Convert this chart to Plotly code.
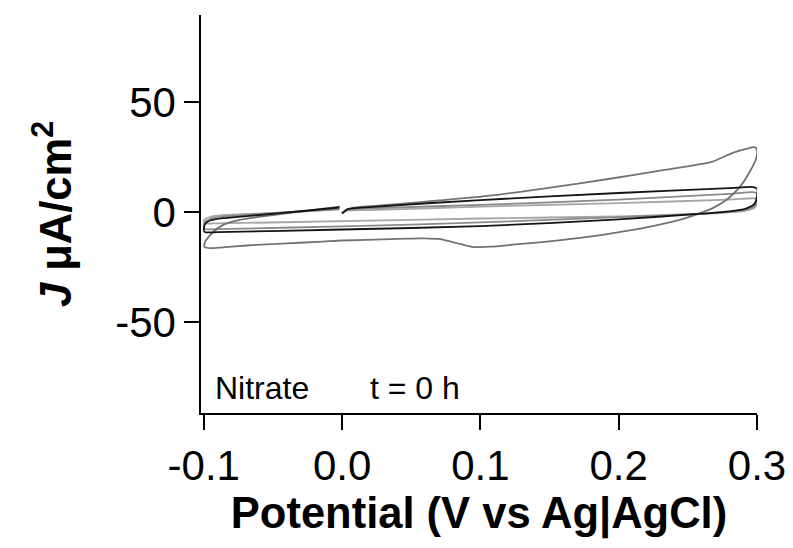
import plotly.graph_objects as go

# Cyclic voltammograms in nitrate electrolyte at t = 0 h.
# Each cycle starts at 0.0 V, sweeps to +0.3 V, back to -0.1 V and returns to 0.0 V.

cycle1_potential = [0.0, 0.003, 0.01, 0.035, 0.07, 0.107, 0.148, 0.196, 0.232, 0.256, 0.268, 0.282,
                    0.292, 0.2986, 0.3, 0.2995, 0.295, 0.287, 0.278, 0.268, 0.256, 0.244, 0.22, 0.196,
                    0.172, 0.148, 0.125, 0.107, 0.095, 0.083, 0.071, 0.059, 0.047, 0.035, 0.0, -0.014,
                    -0.04, -0.062, -0.08, -0.095, -0.0995, -0.099, -0.096, -0.093, -0.086, -0.074,
                    -0.05, -0.025, -0.0015]
cycle1_current = [-0.6, 1.0, 2.0, 3.3, 5.2, 7.4, 10.8, 15.3, 19.0, 21.4, 22.9, 26.7,
                  28.6, 29.4, 28.0, 24.5, 18.5, 10.9, 5.5, 1.7, -1.2, -3.6, -7.0, -9.6,
                  -11.8, -13.5, -14.8, -15.8, -16.0, -14.2, -12.4, -12.0, -12.1, -12.4, -13.0, -13.5,
                  -14.3, -15.0, -15.8, -16.5, -15.8, -13.5, -11.0, -9.0, -5.9, -3.6,
                  -1.4, 0.6, 2.4]

cycle2_potential = [0.0, 0.004, 0.02, 0.1, 0.2, 0.28, 0.297, 0.3, 0.3, 0.298, 0.292, 0.28, 0.26,
                    0.2, 0.1, 0.0, -0.09, -0.099, -0.1, -0.099, -0.095, -0.085, -0.06, -0.03, -0.002]
cycle2_current = [-0.8, 1.2, 2.2, 5.4, 8.6, 10.8, 11.3, 10.6, 7.0, 3.5, 1.5, 0.2, -0.8,
                  -3.4, -6.5, -8.0, -9.2, -9.2, -8.0, -5.5, -3.8, -2.8, -1.4, 0.3, 2.0]

cycle3_potential = [0.0, 0.004, 0.02, 0.1, 0.2, 0.28, 0.297, 0.3, 0.3, 0.298, 0.29, 0.27,
                    0.2, 0.1, 0.0, -0.09, -0.099, -0.1, -0.099, -0.095, -0.08, -0.05, -0.002]
cycle3_current = [-0.6, 1.0, 1.6, 3.2, 5.6, 8.2, 9.0, 8.4, 5.5, 2.5, 0.8, -0.4,
                  -2.4, -4.8, -6.6, -7.8, -7.8, -6.5, -4.5, -3.0, -1.8, -0.6, 1.4]

cycle4_potential = [0.0, 0.004, 0.02, 0.1, 0.2, 0.28, 0.297, 0.3, 0.3, 0.298, 0.29, 0.27,
                    0.2, 0.1, 0.0, -0.09, -0.099, -0.1, -0.099, -0.095, -0.08, -0.05, -0.002]
cycle4_current = [-0.4, 0.6, 0.8, 2.4, 4.0, 5.6, 6.2, 5.8, 4.0, 1.8, 0.4, -0.6,
                  -2.0, -3.0, -4.2, -5.2, -5.2, -4.4, -3.2, -2.2, -1.3, -0.5, 1.0]

x_tick_values = [-0.1, 0.0, 0.1, 0.2, 0.3]
x_tick_labels = ["-0.1", "0.0", "0.1", "0.2", "0.3"]
y_tick_values = [-50, 0, 50]
y_tick_labels = ["-50", "0", "50"]

cycles = [
    (cycle4_potential, cycle4_current, "#a6a6a6"),
    (cycle3_potential, cycle3_current, "#8a8a8a"),
    (cycle1_potential, cycle1_current, "#737373"),
    (cycle2_potential, cycle2_current, "#141414"),
]

FONT = "Arial, Liberation Sans, sans-serif"

fig = go.Figure()
for potential, current, color in cycles:
    fig.add_trace(go.Scatter(
        x=potential, y=current, mode="lines",
        line=dict(color=color, width=1.8, shape="spline", smoothing=0.6),
        showlegend=False, hoverinfo="skip",
    ))

fig.update_layout(
    width=793, height=548,
    margin=dict(l=201, r=35.5, t=15, b=135, autoexpand=False),
    paper_bgcolor="white", plot_bgcolor="white",
    font=dict(family=FONT, color="black"),
    xaxis=dict(
        range=[-0.102, 0.3],
        automargin=False,
        tickvals=x_tick_values, ticktext=x_tick_labels,
        ticks="outside", ticklen=15, tickwidth=1.5, tickcolor="black",
        showline=True, linecolor="black", linewidth=2,
        showgrid=False, zeroline=False,
        tickfont=dict(size=42, family=FONT),
        title=dict(text="<b>Potential (V vs Ag|AgCl)</b>",
                   font=dict(size=43.5, family=FONT), standoff=9),
    ),
    yaxis=dict(
        range=[-91.4, 89.5],
        automargin=False,
        tickvals=y_tick_values, ticktext=y_tick_labels,
        ticks="outside", ticklen=15, tickwidth=1.5, tickcolor="black",
        showline=True, linecolor="black", linewidth=1.5,
        showgrid=False, zeroline=False,
        tickfont=dict(size=42, family=FONT),
        title=dict(text="<b><i>J</i> μA/cm<sup>2</sup></b>",
                   font=dict(size=43.5, family=FONT), standoff=30),
    ),
    annotations=[
        dict(x=-0.093, y=-80, xref="x", yref="y", text="Nitrate", showarrow=False,
             xanchor="left", yanchor="middle", font=dict(size=32, family=FONT)),
        dict(x=0.019, y=-80, xref="x", yref="y", text="t = 0 h", showarrow=False,
             xanchor="left", yanchor="middle", font=dict(size=32, family=FONT)),
    ],
)

fig.write_html("out.html")
